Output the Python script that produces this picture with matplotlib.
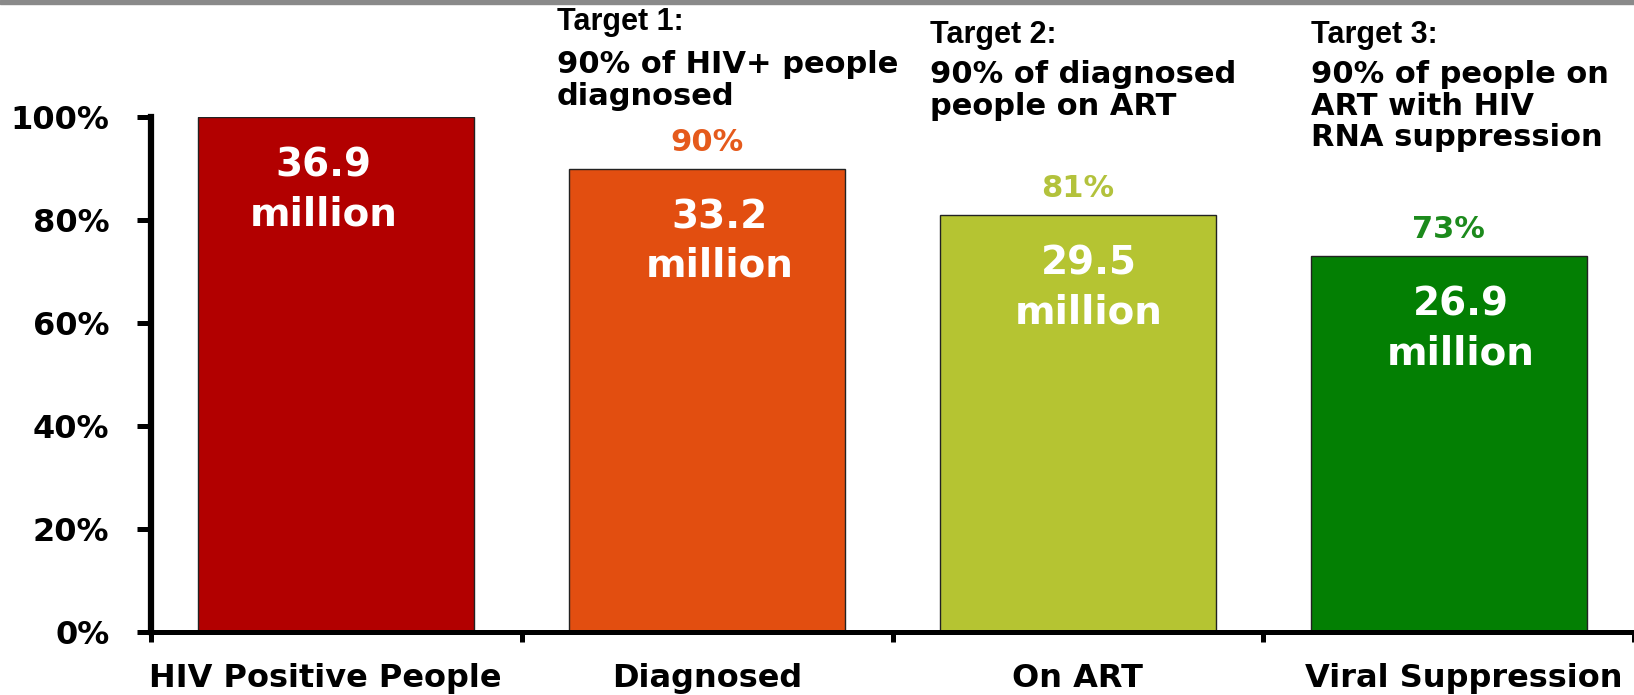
import matplotlib
matplotlib.use("Agg")
import matplotlib.pyplot as plt
from matplotlib.patches import Rectangle
from matplotlib.transforms import blended_transform_factory
import numpy as np

categories = ['HIV Positive People', 'Diagnosed', 'On ART', 'Viral Suppression']
pct = [100, 90, 81, 73]
millions = ['36.9', '33.2', '29.5', '26.9']
pct_labels = ['', '90%', '81%', '73%']
bar_colors = ['#b20000', '#e24e10', '#b5c432', '#037f03']
pct_colors = ['#b20000', '#e55a1c', '#b3c23c', '#1c8a1c']
targets = [
    ['Target 1:', '90% of HIV+ people', 'diagnosed'],
    ['Target 2:', '90% of diagnosed', 'people on ART'],
    ['Target 3:', '90% of people on', 'ART with HIV', 'RNA suppression'],
]

W, H = 1634, 695
plt.rcParams['font.family'] = 'DejaVu Sans'
plt.rcParams['font.weight'] = 'bold'

fig = plt.figure(figsize=(W/100, H/100), dpi=100)
ax = fig.add_axes([151/W, 1-632/H, 1-151/W, (632-117)/H])

x = np.arange(len(categories))
ax.bar(x, pct, width=0.744, color=bar_colors, edgecolor='#222222', lw=1, zorder=2)

ax.set_xlim(-0.5, 3.5)
ax.set_ylim(0, 100)

# spines and ticks
for s in ['top', 'right']:
    ax.spines[s].set_visible(False)
ax.spines['left'].set_linewidth(4.5)
ax.spines['bottom'].set_linewidth(3.6)
ax.set_yticks(np.arange(0, 101, 20))
ax.set_yticklabels(['%d%%' % v for v in range(0, 101, 20)], fontsize=23, fontweight='bold')
ax.tick_params(axis='y', direction='out', length=10, width=3.6, pad=20)
ax.set_xticks(np.arange(-0.5, 4, 1))
ax.set_xticklabels([])
ax.tick_params(axis='x', direction='out', length=7, width=3.6)

# category names under the axis (data x, figure y)
tr = blended_transform_factory(ax.transData, fig.transFigure)
lx = [-0.03, 0.0, 0.0, 0.04]
for i, c in enumerate(categories):
    ax.text(i + lx[i], 1-687/H, c, transform=tr, ha='center', va='baseline',
            fontsize=23, fontweight='bold')

# labels inside and above bars
dx = [-9, 9, 8, 9]
for i in range(len(categories)):
    ax.annotate(millions[i], (i, pct[i]), xytext=(dx[i], -35), textcoords='offset points',
                ha='center', va='center', fontsize=28, fontweight='bold', color='white')
    ax.annotate('million', (i, pct[i]), xytext=(dx[i], -70), textcoords='offset points',
                ha='center', va='center', fontsize=28, fontweight='bold', color='white')
    if pct_labels[i]:
        ax.annotate(pct_labels[i], (i, pct[i]), xytext=(0, 19), textcoords='offset points',
                    ha='center', va='center', fontsize=22, fontweight='bold', color=pct_colors[i])

# target texts above; the "Target n:" line is in a narrower face
tx = [557, 930, 1311]
ty = [[30, 73, 105], [43, 83, 115], [43, 83, 115, 146]]
for k in range(3):
    for j, line in enumerate(targets[k]):
        if j == 0:
            fig.text(tx[k]/W, 1-ty[k][j]/H, line, ha='left', va='baseline',
                     fontsize=22, fontweight='bold', family='Liberation Sans')
        else:
            fig.text(tx[k]/W, 1-ty[k][j]/H, line, ha='left', va='baseline',
                     fontsize=22, fontweight='bold')

# grey band at top of slide
fig.patches.append(Rectangle((0, 1-4/H), 1, 4/H, transform=fig.transFigure,
                             color='#8a8a8a', zorder=5))

fig.savefig('out.png', dpi=100)
